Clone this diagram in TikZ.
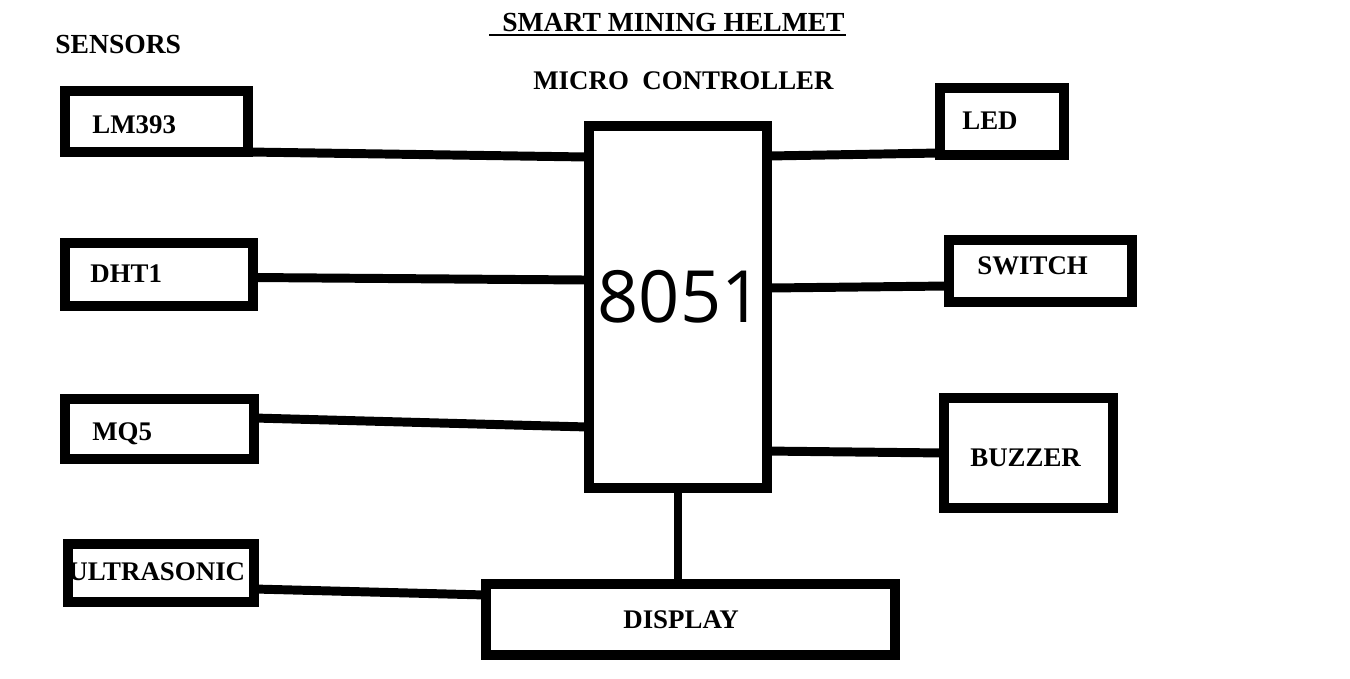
\documentclass[tikz,border=0pt]{standalone}
\usepackage{fontspec}
\setmainfont{Liberation Serif}
\newfontfamily\chipfont{Open Sans}
\usetikzlibrary{calc,positioning}

\tikzset{
  blk/.style={draw, line width=5.7pt, inner sep=0pt, outer sep=0pt},
  txt/.style={inner sep=0pt, anchor=base west, font=\fontsize{15.3}{18}\selectfont\bfseries},
  wire/.style={line width=5.1pt}
}

\begin{document}
\begin{tikzpicture}[x=0.02cm, y=-0.02cm]

  \useasboundingbox[fill=white] (0,0) rectangle (1350,679);

  % titles
  \node[txt, font=\fontsize{15.7}{18}\selectfont\bfseries] (title) at (502,32) {SMART MINING HELMET};
  \draw[line width=0.9pt] ($(title.base west)+(-13,3)$) -- ($(title.base east)+(1,3)$);
  \node[txt, font=\fontsize{15.7}{18}\selectfont\bfseries] (sens) at (55,54) {SENSORS};
  \node[txt] (mctl) at (533,90) {MICRO\ \ CONTROLLER};

  % controller
  \node[blk, minimum width=3.56cm, minimum height=7.24cm] (mc) at (678,307) {};
  \node[inner sep=0pt, font=\chipfont\fontsize{41}{50}\selectfont] (chip) at (680,297) {8051};

  % sensors
  \node[blk, minimum width=3.66cm, minimum height=1.22cm] (lm) at (156.5,121.5) {};
  \node[blk, minimum width=3.76cm, minimum height=1.26cm] (dht) at (159,274.5) {};
  \node[blk, minimum width=3.78cm, minimum height=1.20cm] (mq) at (159.5,429) {};
  \node[blk, minimum width=3.72cm, minimum height=1.16cm] (us) at (161,573) {};
  \node[txt] (lm-t) at (92,133) {LM393};
  \node[txt] (dht-t) at (90,282) {DHT1};
  \node[txt] (mq-t) at (92,440) {MQ5};
  \node[txt] (us-t) at (68,580) {ULTRASONIC};

  % outputs
  \node[blk, minimum width=2.48cm, minimum height=1.34cm] (led) at (1002,121.5) {};
  \node[blk, minimum width=3.66cm, minimum height=1.24cm] (sw) at (1040.5,271) {};
  \node[blk, minimum width=3.38cm, minimum height=2.20cm] (bz) at (1028.5,453) {};
  \node[blk, minimum width=8.18cm, minimum height=1.42cm] (disp) at (690.5,619.5) {};
  \node[txt] (led-t) at (962,130) {LED};
  \node[txt] (sw-t) at (977,275) {SWITCH};
  \node[txt] (bz-t) at (970,466) {BUZZER};
  \node[txt] (disp-t) at (623,628) {DISPLAY};

  % wires
  \draw[wire] (lm.south east) -- ($(mc.north west)+(0,31)$);
  \draw[wire] ($(dht.east)+(0,3)$) -- ($(mc.north west)+(0,154)$);
  \draw[wire] ($(mq.east)+(0,-11)$) -- ($(mc.north west)+(0,301)$);
  \draw[wire] ($(us.east)+(0,16)$) -- ($(disp.north west)+(0,11)$);
  \draw[wire] ($(mc.north east)+(0,30)$) -- ($(led.south west)+(0,-2)$);
  \draw[wire] ($(mc.north east)+(0,162)$) -- ($(sw.west)+(0,15)$);
  \draw[wire] ($(mc.north east)+(0,325)$) -- (bz.west);
  \draw[wire] (mc.south) -- (mc.south |- disp.north);

\end{tikzpicture}
\end{document}
